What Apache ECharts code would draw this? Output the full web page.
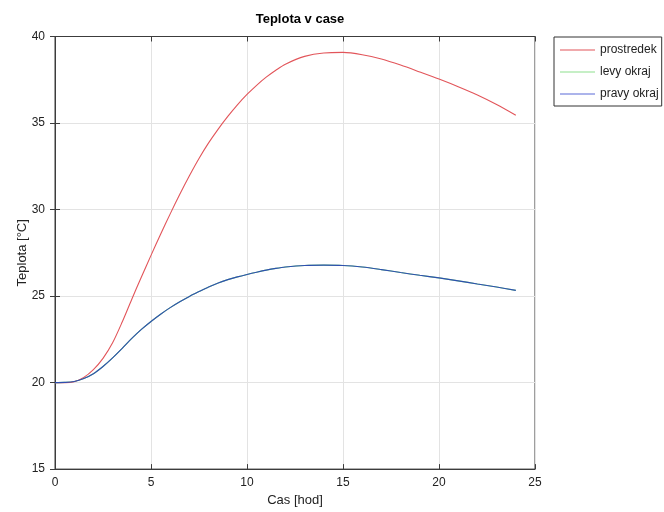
<!DOCTYPE html>
<html>
<head>
<meta charset="utf-8">
<script src="https://cdn.jsdelivr.net/npm/echarts@6/dist/echarts.min.js"></script>
<style>html,body{margin:0;padding:0;background:#fff}#c{width:664px;height:512px}</style>
</head>
<body>
<div id="c"></div>
<script>
const title = "Teplota v case";
const xName = "Cas [hod]";
const yName = "Teplota [°C]";
const seriesNames = ["prostredek", "levy okraj", "pravy okraj"];
const t = [0,0.5,1,1.5,2,2.5,3,3.5,4,4.5,5,5.5,6,6.5,7,7.5,8,8.5,9,9.5,10,10.5,11,11.5,12,13,14,15,16,17,18,19,20,21,22,23,24];
const prostredek = [20,20,20.05,20.3,20.75,21.4,22.3,23.5,24.82,26.1,27.35,28.57,29.75,30.88,31.95,32.95,33.85,34.65,35.38,36.05,36.65,37.18,37.65,38.05,38.4,38.85,39.05,39.08,38.95,38.7,38.35,37.95,37.54,37.1,36.62,36.07,35.45];
const levyOkraj = [20,20.01,20.06,20.23,20.51,20.93,21.43,21.98,22.55,23.07,23.53,23.95,24.33,24.67,24.98,25.26,25.53,25.76,25.95,26.11,26.25,26.38,26.5,26.6,26.68,26.77,26.79,26.77,26.68,26.53,26.36,26.2,26.05,25.88,25.7,25.52,25.33];
const pravyOkraj = [20,20.01,20.06,20.23,20.51,20.93,21.43,21.98,22.55,23.07,23.53,23.95,24.33,24.67,24.98,25.26,25.53,25.76,25.95,26.11,26.25,26.38,26.5,26.6,26.68,26.77,26.79,26.77,26.68,26.53,26.36,26.2,26.05,25.88,25.7,25.52,25.33];
const xTicks = [0,5,10,15,20,25];
const yTicks = [15,20,25,30,35,40];

const colors = ["#e2555a", "#7fdc7f", "#2f4fb0"];
const legendColors = ["#e2555a", "#8ee08e", "#5a6ad8"];
const font = "Liberation Sans, Arial, sans-serif";
const pair = (xs, ys) => xs.map((x, i) => [x, ys[i]]);
const axisCol = "#3c3c3c";

const chart = echarts.init(document.getElementById('c'), null, {renderer: 'canvas'});
chart.setOption({
  animation: false,
  backgroundColor: "#ffffff",
  color: colors,
  title: {
    text: title, left: 295, top: 8, textAlign: 'center',
    textStyle: {fontFamily: font, fontSize: 13, fontWeight: 'bold', color: '#000'}
  },
  grid: {left: 55, right: 129, top: 36.5, bottom: 41, show: true, borderColor: axisCol, borderWidth: 1, backgroundColor: '#fff'},
  legend: {
    orient: 'vertical', left: 554, top: 37,
    data: seriesNames.map((n, i) => ({name: n, icon: 'rect', itemStyle: {color: legendColors[i], borderWidth: 0}})),
    itemWidth: 35, itemHeight: 1.2, itemGap: 10,
    padding: [7, 3, 6, 6],
    borderColor: '#333', borderWidth: 1, backgroundColor: '#fff',
    textStyle: {fontFamily: font, fontSize: 12, color: '#222'}
  },
  xAxis: [{
    type: 'value', min: xTicks[0], max: xTicks[xTicks.length-1], interval: 5,
    name: xName, nameLocation: 'middle', nameGap: 22,
    nameTextStyle: {fontFamily: font, fontSize: 13, color: '#222'},
    axisLine: {show: true, lineStyle: {color: axisCol}},
    axisTick: {show: true, inside: true, length: 5, lineStyle: {color: axisCol}},
    axisLabel: {fontFamily: font, fontSize: 12, color: '#222', margin: 8},
    splitLine: {show: true, lineStyle: {color: '#e3e3e3'}}
  }, {
    type: 'value', position: 'top', min: xTicks[0], max: xTicks[xTicks.length-1], interval: 5,
    axisLine: {show: true, lineStyle: {color: axisCol}},
    axisTick: {show: true, inside: true, length: 5, lineStyle: {color: axisCol}},
    axisLabel: {show: false}, splitLine: {show: false}
  }],
  yAxis: [{
    type: 'value', min: yTicks[0], max: yTicks[yTicks.length-1], interval: 5,
    name: yName, nameLocation: 'middle', nameGap: 26, nameRotate: 90, nameMoveOverlap: false,
    nameTextStyle: {fontFamily: font, fontSize: 13, color: '#222'},
    axisLine: {show: true, lineStyle: {color: axisCol}},
    axisTick: {show: true, inside: true, length: 5, lineStyle: {color: axisCol}},
    axisLabel: {fontFamily: font, fontSize: 12, color: '#222', margin: 10},
    splitLine: {show: true, lineStyle: {color: '#e3e3e3'}}
  }, {
    type: 'value', position: 'right', min: yTicks[0], max: yTicks[yTicks.length-1], interval: 5,
    axisLine: {show: true, lineStyle: {color: axisCol}},
    axisTick: {show: true, inside: true, length: 5, lineStyle: {color: axisCol}},
    axisLabel: {show: false}, splitLine: {show: false}
  }],
  series: [
    {name: seriesNames[0], type: 'line', smooth: 0.3, showSymbol: false, data: pair(t, prostredek), itemStyle: {color: colors[0]}, lineStyle: {width: 1.1, color: colors[0]}, z: 3},
    {name: seriesNames[1], type: 'line', smooth: 0.3, showSymbol: false, data: pair(t, levyOkraj), itemStyle: {color: colors[1]}, lineStyle: {width: 1.1, color: colors[1]}, z: 2},
    {name: seriesNames[2], type: 'line', smooth: 0.3, showSymbol: false, data: pair(t, pravyOkraj), itemStyle: {color: colors[2]}, lineStyle: {width: 1.1, color: colors[2]}, z: 4}
  ]
});
</script>
</body>
</html>
